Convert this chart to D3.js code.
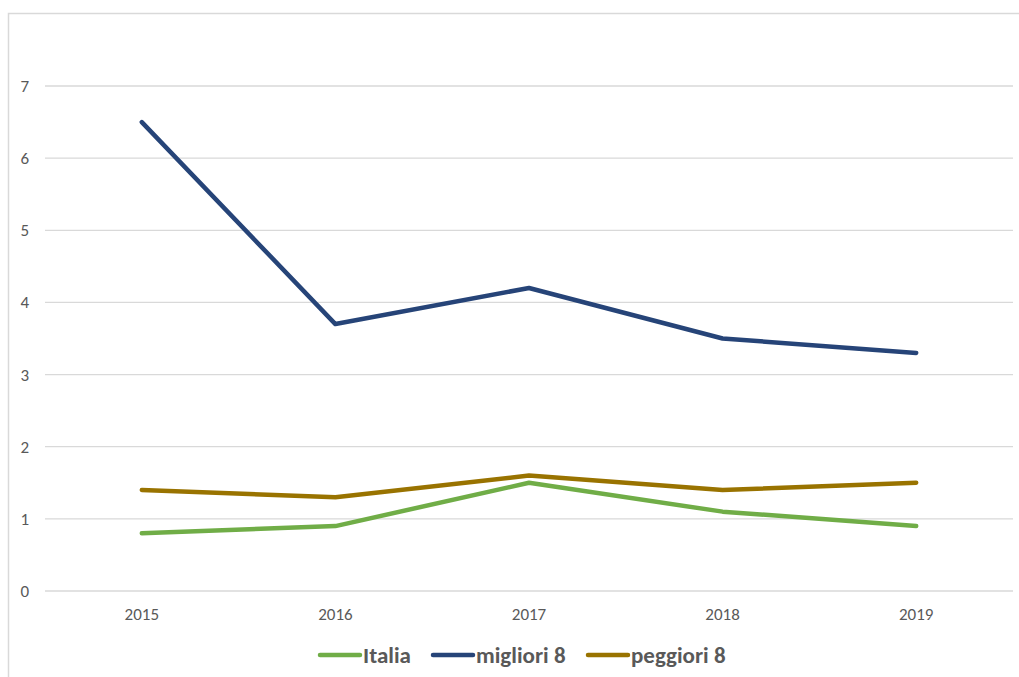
<!DOCTYPE html>
<html><head><meta charset="utf-8">
<script src="https://cdn.jsdelivr.net/npm/d3@7"></script>
<style>body{margin:0;background:#fff;}svg{display:block;font-family:Carlito,"Liberation Sans",Arial,sans-serif;}</style>
</head><body><svg id="c" width="1019" height="677"></svg>
<script>
const years = ["2015","2016","2017","2018","2019"];
const italia = [0.8, 0.9, 1.5, 1.1, 0.9];
const migliori = [6.5, 3.7, 4.2, 3.5, 3.3];
const peggiori = [1.4, 1.3, 1.6, 1.4, 1.5];
const yTicks = [0,1,2,3,4,5,6,7];
const seriesNames = ["Italia","migliori 8","peggiori 8"];
const colors = ["#70AD47","#264478","#997300"];

const svg = d3.select("#c");
svg.append("rect").attr("x",8.5).attr("y",13.5).attr("width",1030).attr("height",700)
  .attr("fill","none").attr("stroke","#d9d9d9").attr("stroke-width",1.5);

const x = d3.scaleBand().domain(years).range([45,1013]);
const y = d3.scaleLinear().domain([0,7]).range([591,86]);

svg.append("g").selectAll("line").data(yTicks).join("line")
  .attr("x1",45).attr("x2",1013).attr("y1",d=>y(d)).attr("y2",d=>y(d))
  .attr("stroke","#d9d9d9").attr("stroke-width",1.3);

svg.append("g").selectAll("text").data(yTicks).join("text")
  .attr("x",29).attr("y",d=>y(d)).attr("dy","0.35em").attr("text-anchor","end")
  .attr("fill","#595959").attr("font-size",17).text(d=>d);

svg.append("g").selectAll("text").data(years).join("text")
  .attr("x",d=>x(d)+x.bandwidth()/2).attr("y",620).attr("text-anchor","middle")
  .attr("fill","#595959").attr("font-size",17).text(d=>d);

const data = [italia, migliori, peggiori];
const line = d3.line().x((d,i)=>x(years[i])+x.bandwidth()/2).y(d=>y(d));
data.forEach((s,k)=>{
  svg.append("path").datum(s).attr("d",line).attr("fill","none")
    .attr("stroke",colors[k]).attr("stroke-width",4.5).attr("stroke-linejoin","round").attr("stroke-linecap","round");
});

const legX = [320, 433, 588];
const lg = svg.append("g");
seriesNames.forEach((n,k)=>{
  lg.append("line").attr("x1",legX[k]).attr("x2",legX[k]+40).attr("y1",655).attr("y2",655)
    .attr("stroke",colors[k]).attr("stroke-width",4.5).attr("stroke-linecap","round");
  lg.append("text").attr("x",legX[k]+43).attr("y",663)
    .attr("fill","#595959").attr("font-size",23).attr("font-weight","bold").text(n);
});
</script></body></html>
